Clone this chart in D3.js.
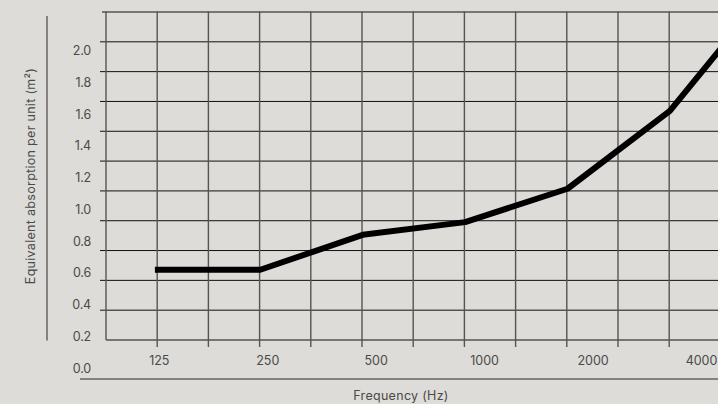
<!DOCTYPE html>
<html>
<head>
<meta charset="utf-8">
<script src="https://cdn.jsdelivr.net/npm/d3@7/dist/d3.min.js"></script>
<style>
  html, body { margin: 0; padding: 0; background: #dddcd8; }
  svg { display: block; }
  text { font-family: Inter, "Noto Sans", sans-serif; fill: #4a4a4a; }
</style>
</head>
<body>
<svg id="chart" width="718" height="404"></svg>
<script>
// ---- data ----
const frequencies = [125, 250, 500, 1000, 2000, 4000, 8000];
const absorption  = [0.62, 0.62, 0.84, 0.92, 1.13, 1.62, 2.41];
const xTickLabels = ["125", "250", "500", "1000", "2000", "4000"];
const yTickValues = [0.0, 0.2, 0.4, 0.6, 0.8, 1.0, 1.2, 1.4, 1.6, 1.8, 2.0];
const gridColumns = d3.range(0, 13);   // vertical grid lines
const gridRows    = d3.range(0, 12);   // horizontal grid lines
const xTitle = "Frequency (Hz)";
const yTitle = "Equivalent absorption per unit (m²)";

// ---- layout ----
const W = 718, H = 404;
const svg = d3.select("#chart");

svg.append("rect").attr("width", W).attr("height", H).attr("fill", "#dddcd8");

// scales
const x = d3.scaleLog().base(2).domain([125, 8000]).range([157.9, 157.9 + 6 * 102.4]);
const y = d3.scaleLinear().domain([0, 2]).range([368.3, 50.5]);
const gx = d3.scaleLinear().domain([0, 12]).range([106, 106 + 12 * 51.2]);
const gy = d3.scaleLinear().domain([0, 11]).range([340, 12]);
const xl = d3.scalePoint().domain(xTickLabels).range([159.3, 701.5]);

// horizontal grid lines
svg.append("g").selectAll("line").data(gridRows).join("line")
  .attr("x1", d => d === 0 ? 106 : (d === 11 ? 102 : 100))
  .attr("x2", W + 5)
  .attr("y1", d => gy(d)).attr("y2", d => gy(d))
  .attr("stroke", "#111").attr("stroke-width", 1);

// vertical grid lines
svg.append("g").selectAll("line").data(gridColumns).join("line")
  .attr("x1", d => gx(d)).attr("x2", d => gx(d))
  .attr("y1", 11.5)
  .attr("y2", d => d === 0 ? 340 : 347)
  .attr("stroke", "#555").attr("stroke-width", 1.4);

// y tick labels
svg.append("g").selectAll("text").data(yTickValues).join("text")
  .attr("x", 91).attr("y", d => y(d))
  .attr("text-anchor", "end").attr("dominant-baseline", "central")
  .attr("font-size", 12.5).attr("letter-spacing", -0.2)
  .text(d => d.toFixed(1));

// x tick labels
svg.append("g").selectAll("text").data(xTickLabels).join("text")
  .attr("x", d => xl(d)).attr("y", 360)
  .attr("text-anchor", "middle").attr("dominant-baseline", "central")
  .attr("font-size", 12.5).attr("letter-spacing", 0)
  .text(d => d);

// axis separator lines
svg.append("line").attr("x1", 47).attr("x2", 47).attr("y1", 16).attr("y2", 340.5)
  .attr("stroke", "#666").attr("stroke-width", 1.5);
svg.append("line").attr("x1", 80).attr("x2", W).attr("y1", 379).attr("y2", 379)
  .attr("stroke", "#666").attr("stroke-width", 1.5);

// titles
svg.append("text").attr("transform", "translate(30,176) rotate(-90)")
  .attr("text-anchor", "middle").attr("dominant-baseline", "central")
  .attr("font-size", 12.5).attr("letter-spacing", 0.3).text(yTitle);
svg.append("text").attr("x", 401).attr("y", 395)
  .attr("text-anchor", "middle").attr("dominant-baseline", "central")
  .attr("font-size", 12.5).attr("letter-spacing", 0.3).text(xTitle);

// data line
const line = d3.line().x((d, i) => x(frequencies[i])).y(d => y(d));
svg.append("path").datum(absorption)
  .attr("d", line)
  .attr("fill", "none").attr("stroke", "#000").attr("stroke-width", 6)
  .attr("stroke-linecap", "square").attr("stroke-linejoin", "round");
</script>
</body>
</html>
